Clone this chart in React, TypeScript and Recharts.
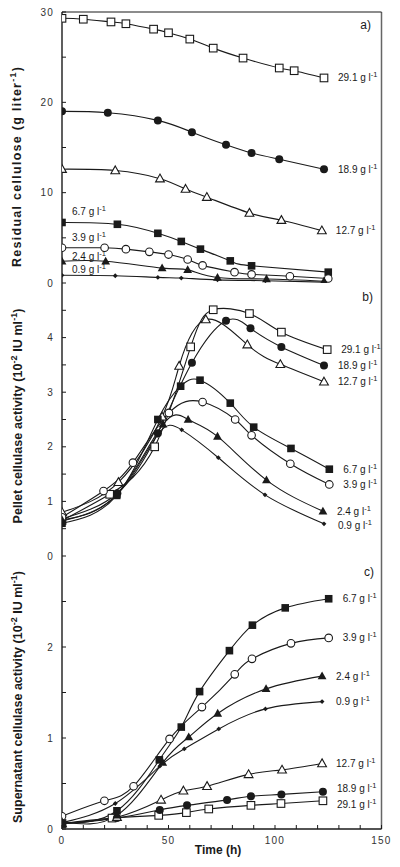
import React from 'react'
import { LabelList, Line, LineChart, ReferenceLine, XAxis, YAxis } from 'recharts'

// initial cellulose concentrations (g/l), same order in every panel
const concentrations = ['29.1', '18.9', '12.7', '6.7', '3.9', '2.4', '0.9']
const markerShapes = ['openSquare', 'filledCircle', 'openTriangle', 'filledSquare', 'openCircle', 'filledTriangle', 'diamond']

// a) residual cellulose (g/l)
const residualTimes = [
  [0, 10, 23, 30, 43, 50, 60, 71, 85, 102, 109, 123],
  [0, 21.5, 45, 61, 77, 89, 102, 123],
  [0, 25, 46, 58, 68, 88, 103, 122],
  [0, 26, 45, 56, 65, 79, 89, 125],
  [0, 20, 30, 41, 50, 59, 66, 81, 89, 107, 125],
  [0, 20.5, 47, 59, 73, 96, 123],
  [0, 25, 45, 56, 73, 95.5, 123],
]
const residualValues = [
  [29.3, 29.2, 28.9, 28.7, 28.1, 27.7, 27.0, 26.0, 24.9, 23.8, 23.5, 22.7],
  [19.0, 18.85, 18.0, 16.7, 15.3, 14.4, 13.7, 12.6],
  [12.6, 12.45, 11.55, 10.4, 9.5, 7.75, 6.95, 5.8],
  [6.7, 6.5, 5.5, 4.6, 3.75, 2.45, 1.9, 1.2],
  [3.9, 3.9, 3.75, 3.45, 3.15, 2.6, 1.95, 1.2, 0.95, 0.75, 0.5],
  [2.4, 2.4, 1.65, 1.45, 0.6, 0.45, 0.2],
  [0.85, 0.8, 0.62, 0.55, 0.35, 0.25, 0.1],
]

// b) pellet cellulase activity (10^-2 IU/ml)
const pelletTimes = [
  [0, 22.4, 43.5, 60.4, 71, 88, 103, 124.5],
  [0, 26, 45, 61, 77, 88.5, 103, 123],
  [0, 26.5, 47, 55, 67.5, 87, 102.5, 123],
  [0, 25.7, 45, 55.7, 64.8, 79, 90, 107.5, 125.5],
  [0, 19.5, 33.3, 50.2, 66, 81.3, 89, 107.2, 125.5],
  [0, 25.7, 47.4, 59.2, 73, 96, 122.5],
  [0, 25.7, 44.7, 56.2, 73.4, 95.3, 123],
]
const pelletValues = [
  [0.65, 1.13, 2.0, 3.83, 4.51, 4.44, 4.1, 3.78],
  [0.68, 1.15, 2.25, 3.54, 4.31, 4.17, 3.83, 3.49],
  [0.8, 1.35, 2.55, 3.48, 4.33, 3.87, 3.51, 3.19],
  [0.6, 1.11, 2.5, 3.11, 3.22, 2.8, 2.36, 1.97, 1.59],
  [0.71, 1.19, 1.71, 2.62, 2.82, 2.5, 2.21, 1.69, 1.31],
  [0.66, 1.13, 2.41, 2.5, 2.19, 1.39, 0.82],
  [0.64, 1.12, 2.21, 2.31, 1.8, 1.12, 0.59],
]

// c) supernatant cellulase activity (10^-2 IU/ml)
const supernatantTimes = [
  [0, 23.5, 45.4, 58.4, 68.9, 88.7, 102.8, 122.5],
  [0, 25.8, 45.9, 58.7, 77.5, 88.7, 103, 122.5],
  [0, 25.8, 46.5, 57, 68.1, 87.6, 103.3, 122.1],
  [0, 25.8, 45.7, 56, 64.6, 78.6, 89.4, 104.8, 125.2],
  [0, 19.9, 33.6, 50.5, 65.7, 81.1, 89.2, 107.5, 125.2],
  [0, 25.8, 47.3, 59.5, 73.1, 95.8, 122.1],
  [0, 25, 45.9, 57.4, 73.6, 95.5, 122.1],
]
const supernatantValues = [
  [0.06, 0.12, 0.15, 0.18, 0.22, 0.26, 0.28, 0.31],
  [0.06, 0.12, 0.21, 0.26, 0.32, 0.36, 0.38, 0.41],
  [0.06, 0.13, 0.32, 0.42, 0.47, 0.6, 0.65, 0.72],
  [0.06, 0.2, 0.76, 1.12, 1.51, 1.96, 2.24, 2.43, 2.53],
  [0.14, 0.31, 0.47, 0.99, 1.34, 1.7, 1.87, 2.04, 2.1],
  [0.08, 0.15, 0.73, 1.01, 1.27, 1.54, 1.68],
  [0.07, 0.28, 0.69, 0.88, 1.1, 1.32, 1.4],
]

const timeTicks = [0, 10, 20, 30, 40, 50, 60, 70, 80, 90, 100, 110, 120, 130, 140, 150]
const residualTicks = [0, 5, 10, 15, 20, 25, 30]
const pelletTicks = [0, 0.5, 1, 1.5, 2, 2.5, 3, 3.5, 4, 4.5]
const supernatantTicks = [0, 0.5, 1, 1.5, 2, 2.5]

const FONT = '"Liberation Sans", Arial, sans-serif'
const INK = '#1a1a1a'

const toPoints = (ts: number[], vs: number[]) => ts.map((t, i) => ({ t, v: vs[i] }))

const renderMarker = (shape: string) => (props: any) => {
  const { cx, cy, index } = props
  const key = `${shape}-${index}`
  if (cx == null || cy == null) return <g key={key} />
  const s = 3.8
  switch (shape) {
    case 'openSquare':
      return <rect key={key} x={cx - s} y={cy - s} width={s * 2} height={s * 2} fill="#fff" stroke={INK} strokeWidth={1.1} />
    case 'filledSquare':
      return <rect key={key} x={cx - s} y={cy - s} width={s * 2} height={s * 2} fill={INK} />
    case 'filledCircle':
      return <circle key={key} cx={cx} cy={cy} r={4} fill={INK} />
    case 'openCircle':
      return <circle key={key} cx={cx} cy={cy} r={3.8} fill="#fff" stroke={INK} strokeWidth={1.1} />
    case 'openTriangle':
      return <polygon key={key} points={`${cx},${cy - 4.6} ${cx + 4.4},${cy + 3.2} ${cx - 4.4},${cy + 3.2}`} fill="#fff" stroke={INK} strokeWidth={1.1} />
    case 'filledTriangle':
      return <polygon key={key} points={`${cx},${cy - 4.6} ${cx + 4.4},${cy + 3.2} ${cx - 4.4},${cy + 3.2}`} fill={INK} />
    default:
      return <polygon key={key} points={`${cx},${cy - 2.4} ${cx + 2.4},${cy} ${cx},${cy + 2.4} ${cx - 2.4},${cy}`} fill={INK} />
  }
}

const yTick = (isMajor: (v: number) => boolean) => (props: any) => {
  const { x, y, payload } = props
  const v = payload.value
  return (
    <g>
      <line x1={x} x2={x + 4} y1={y} y2={y} stroke={INK} strokeWidth={1} />
      {isMajor(v) && (
        <text x={x - 8} y={y + 3.5} textAnchor="end" fontSize={10} fontFamily={FONT} fill="#333" letterSpacing={1.2}>
          {v}
        </text>
      )}
    </g>
  )
}

const xTick = (showLabels: boolean) => (props: any) => {
  const { x, y, payload } = props
  const v = payload.value
  return (
    <g>
      <line x1={x} x2={x} y1={y} y2={y - 4} stroke={INK} strokeWidth={1} />
      {showLabels && v % 50 === 0 && (
        <text x={x} y={y + 14.5} textAnchor="middle" fontSize={10} fontFamily={FONT} fill="#333" letterSpacing={1.2}>
          {v}
        </text>
      )}
    </g>
  )
}

type LabelPlace = { side: 'left' | 'right'; dy: number }

const seriesLabel = (name: string, place: LabelPlace, lastIndex: number) => (props: any) => {
  const { index } = props
  const x = props.x ?? props.viewBox?.x
  const y = props.y ?? props.viewBox?.y
  const wanted = place.side === 'left' ? 0 : lastIndex
  if (index !== wanted || x == null) return null
  const lx = place.side === 'left' ? x + 10 : x + 14
  return (
    <text key={`lab-${name}`} x={lx} y={y + place.dy + 3.5} fontSize={10} fontFamily={FONT} fill={INK}>
      {name} g l
      <tspan dy={-4} fontSize={7.5}>-1</tspan>
    </text>
  )
}

type PanelProps = {
  top: number
  height: number
  marginTop: number
  xAxisHeight: number
  times: number[][]
  values: number[][]
  yMax: number
  yTicks: number[]
  isMajor: (v: number) => boolean
  places: LabelPlace[]
  showXLabels: boolean
  topBorder: boolean
}

function Panel(p: PanelProps) {
  return (
    <div style={{ position: 'absolute', left: 0, top: p.top }}>
      <LineChart width={400} height={p.height} margin={{ top: p.marginTop, right: 18.5, bottom: 0, left: 0 }}>
        <XAxis
          dataKey="t"
          type="number"
          domain={[0, 150]}
          ticks={timeTicks}
          interval={0}
          allowDataOverflow
          height={p.xAxisHeight}
          tickSize={0}
          tickMargin={0}
          tick={xTick(p.showXLabels)}
          axisLine={{ stroke: INK, strokeWidth: 1.4 }}
        />
        <YAxis
          type="number"
          domain={[0, p.yMax]}
          ticks={p.yTicks}
          interval={0}
          allowDataOverflow
          width={62}
          tickSize={0}
          tickMargin={0}
          tick={yTick(p.isMajor)}
          axisLine={{ stroke: INK, strokeWidth: 1.4 }}
        />
        <ReferenceLine x={150} stroke="#666" strokeWidth={1.5} />
        {p.topBorder && <ReferenceLine y={p.yMax} stroke={INK} strokeWidth={1.2} />}
        {p.times.map((ts, i) => (
          <Line
            key={concentrations[i]}
            data={toPoints(ts, p.values[i])}
            dataKey="v"
            type="natural"
            stroke={INK}
            strokeWidth={1.1}
            dot={renderMarker(markerShapes[i])}
            activeDot={false}
            isAnimationActive={false}
          >
            <LabelList dataKey="v" content={seriesLabel(concentrations[i], p.places[i], ts.length - 1)} />
          </Line>
        ))}
      </LineChart>
    </div>
  )
}

const R = (dy = 0): LabelPlace => ({ side: 'right', dy })
const L = (dy: number): LabelPlace => ({ side: 'left', dy })

export default function App() {
  const titleStyle = { fontSize: 12.5, fontWeight: 700, fontFamily: FONT, fill: INK } as const
  return (
    <div style={{ position: 'absolute', left: 0, top: 0, width: 400, height: 867, background: '#fff' }}>
      <style>{'.recharts-surface{overflow:visible}'}</style>
      <Panel
        top={0}
        height={283}
        marginTop={12}
        xAxisHeight={0}
        times={residualTimes}
        values={residualValues}
        yMax={30}
        yTicks={residualTicks}
        isMajor={(v) => v % 10 === 0}
        places={[R(), R(), R(), L(-11), L(-10), L(-5), L(-6)]}
        showXLabels={false}
        topBorder
      />
      <Panel
        top={283}
        height={273}
        marginTop={0}
        xAxisHeight={0}
        times={pelletTimes}
        values={pelletValues}
        yMax={5}
        yTicks={pelletTicks}
        isMajor={(v) => v % 1 === 0}
        places={[R(), R(), R(), R(), R(), R(), R(2)]}
        showXLabels={false}
        topBorder={false}
      />
      <Panel
        top={556}
        height={311}
        marginTop={0}
        xAxisHeight={38}
        times={supernatantTimes}
        values={supernatantValues}
        yMax={3}
        yTicks={supernatantTicks}
        isMajor={(v) => v % 1 === 0}
        places={[R(3.5), R(-3), R(), R(), R(), R(), R()]}
        showXLabels
        topBorder={false}
      />
      <svg width={400} height={867} style={{ position: 'absolute', left: 0, top: 0, pointerEvents: 'none' }}>
        <text transform="translate(21,167) rotate(-90)" textAnchor="middle" textLength={200} lengthAdjust="spacing" {...titleStyle}>
          Residual cellulose (g liter<tspan dy={-5} fontSize={9}>-1</tspan><tspan dy={5}>)</tspan>
        </text>
        <text transform="translate(22,416) rotate(-90)" textAnchor="middle" textLength={215} lengthAdjust="spacing" {...titleStyle}>
          Pellet cellulase activity (10<tspan dy={-5} fontSize={9}>-2</tspan><tspan dy={5}> IU ml</tspan>
          <tspan dy={-5} fontSize={9}>-1</tspan><tspan dy={5}>)</tspan>
        </text>
        <text transform="translate(22,697) rotate(-90)" textAnchor="middle" textLength={252} lengthAdjust="spacing" {...titleStyle}>
          Supernatant cellulase activity (10<tspan dy={-5} fontSize={9}>-2</tspan><tspan dy={5}> IU ml</tspan>
          <tspan dy={-5} fontSize={9}>-1</tspan><tspan dy={5}>)</tspan>
        </text>
        <text x={218} y={854} textAnchor="middle" {...titleStyle} fontSize={12}>Time (h)</text>
        <text x={371} y={29} textAnchor="end" fontSize={12} fontFamily={FONT} fill={INK}>a)</text>
        <text x={373} y={301} textAnchor="end" fontSize={12} fontFamily={FONT} fill={INK}>b)</text>
        <text x={374} y={576} textAnchor="end" fontSize={12} fontFamily={FONT} fill={INK}>c)</text>
      </svg>
    </div>
  )
}
